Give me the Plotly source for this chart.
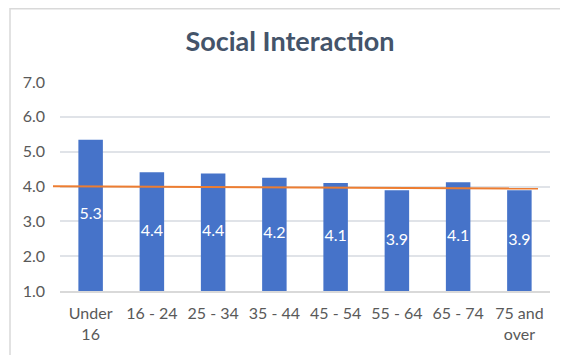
import plotly.graph_objects as go

categories = ["Under<br>16", "16 - 24", "25 - 34", "35 - 44", "45 - 54", "55 - 64", "65 - 74", "75 and<br>over"]
values = [5.34, 4.41, 4.37, 4.25, 4.10, 3.89, 4.12, 3.89]
labels = ["5.3", "4.4", "4.4", "4.2", "4.1", "3.9", "4.1", "3.9"]
ref_line = [4.01, 3.94]  # orange reference line: left end, right end
y_ticks = [1, 2, 3, 4, 5, 6, 7]
axis_base = 1.0

# page body has an 8px margin, so the figure is sized/positioned to compensate
OFF = 8
W, H = 568 - OFF, 355 - OFF
ML, MR, MT, MB = 60 - OFF, 18, 82 - OFF, 64
pw = W - ML - MR
ph = H - MT - MB

fig = go.Figure()
fig.add_trace(go.Bar(
    x=categories,
    y=[v - axis_base for v in values],
    base=axis_base,
    marker=dict(color="#4673C9", line=dict(width=0)),
    hoverinfo="skip",
))
# data labels centred in each bar (not shrunk to bar width)
fig.add_trace(go.Scatter(
    x=categories,
    y=[(v + axis_base) / 2 for v in values],
    mode="text",
    text=labels,
    textposition="middle center",
    textfont=dict(color="white", size=16, family="Lato"),
    hoverinfo="skip",
    cliponaxis=False,
))

# orange reference line
fig.add_shape(type="line", xref="paper", yref="y",
              x0=(53 - OFF - ML) / pw, x1=(538 - OFF - ML) / pw,
              y0=ref_line[0], y1=ref_line[1],
              line=dict(color="#ED7D31", width=2))

# chart border (left and top edges visible)
fig.add_shape(type="rect", xref="paper", yref="paper",
              x0=(10 - OFF - ML) / pw, x1=(W + 10 - ML) / pw,
              y0=-(MB + 10) / ph, y1=(ph + MT - 0.8) / ph,
              line=dict(color="#D9D9D9", width=1.5), layer="below")

fig.update_layout(
    width=W, height=H,
    margin=dict(l=ML, r=MR, t=MT, b=MB),
    paper_bgcolor="white", plot_bgcolor="white",
    showlegend=False,
    bargap=0.6,
    title=dict(text="<b>Social Interaction</b>", x=(290 - OFF) / W, xanchor="center",
               y=1 - (42 - OFF) / H, yanchor="middle",
               font=dict(family="Lato", size=27, color="#44546A")),
    font=dict(family="Lato", size=16, color="#595959"),
    xaxis=dict(showgrid=False, showline=True, linecolor="#D9D9D9", linewidth=1.5,
               ticks="", ticklabelstandoff=7, fixedrange=True),
    yaxis=dict(range=[1, 7], tickvals=y_ticks, tickformat=".1f", showgrid=True,
               gridcolor="#E0E3E8", gridwidth=1.5, zeroline=False, showline=False,
               ticks="", ticklabelstandoff=14, fixedrange=True),
)

fig.write_html("out.html")
